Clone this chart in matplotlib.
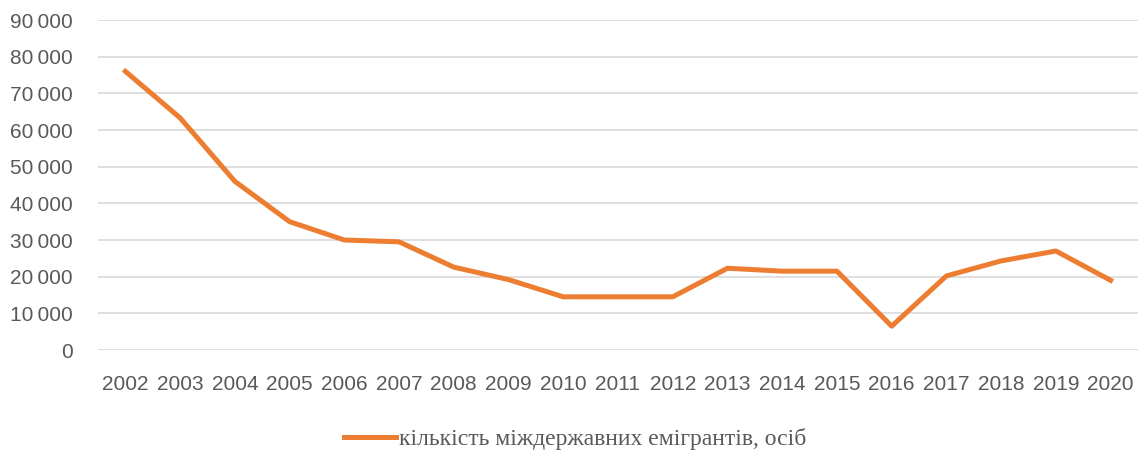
import matplotlib.pyplot as plt
from matplotlib.ticker import FuncFormatter

# emigrants per year
years = [str(y) for y in range(2002, 2021)]
emigrants = [76000, 63300, 46000, 35000, 30000, 29500, 22600, 19200, 14500,
             14500, 14500, 22300, 21500, 21500, 6500, 20200, 24300, 27000, 19000]
label = 'кількість міждержавних емігрантів, осіб'

grey = '#595959'
orange = '#ED7D31'

fig = plt.figure(figsize=(11.41, 4.5), dpi=100)
ax = fig.add_axes([98 / 1141, 1 - 350 / 450, 1040 / 1141, 330 / 450])

x = range(len(years))
ax.plot(x, emigrants, color=orange, lw=3.6, solid_joinstyle='round', label=label)

ax.set_ylim(0, 90000)
ax.set_yticks(range(0, 90001, 10000))
ax.yaxis.set_major_formatter(FuncFormatter(lambda v, p: f'{int(v):,}'.replace(',', '\u2009')))
ax.set_xlim(-0.5, len(years) - 0.5)
ax.set_xticks(list(x))
ax.set_xticklabels(years)

ax.grid(axis='y', color='#d9d9d9', lw=1.2)
ax.set_axisbelow(True)
for s in ax.spines.values():
    s.set_visible(False)
ax.tick_params(length=0, colors=grey, labelsize=15)
ax.tick_params(axis='x', pad=18)
ax.tick_params(axis='y', pad=18)
for t in ax.get_xticklabels() + ax.get_yticklabels():
    t.set_fontfamily('Liberation Sans')

leg = fig.legend(loc='center', bbox_to_anchor=(575 / 1141, 1 - 439 / 450), frameon=False,
                 prop={'family': 'Liberation Serif', 'size': 17},
                 handlelength=2.2, handletextpad=0.1)
for t in leg.get_texts():
    t.set_color(grey)

fig.savefig('out.png', dpi=100)
